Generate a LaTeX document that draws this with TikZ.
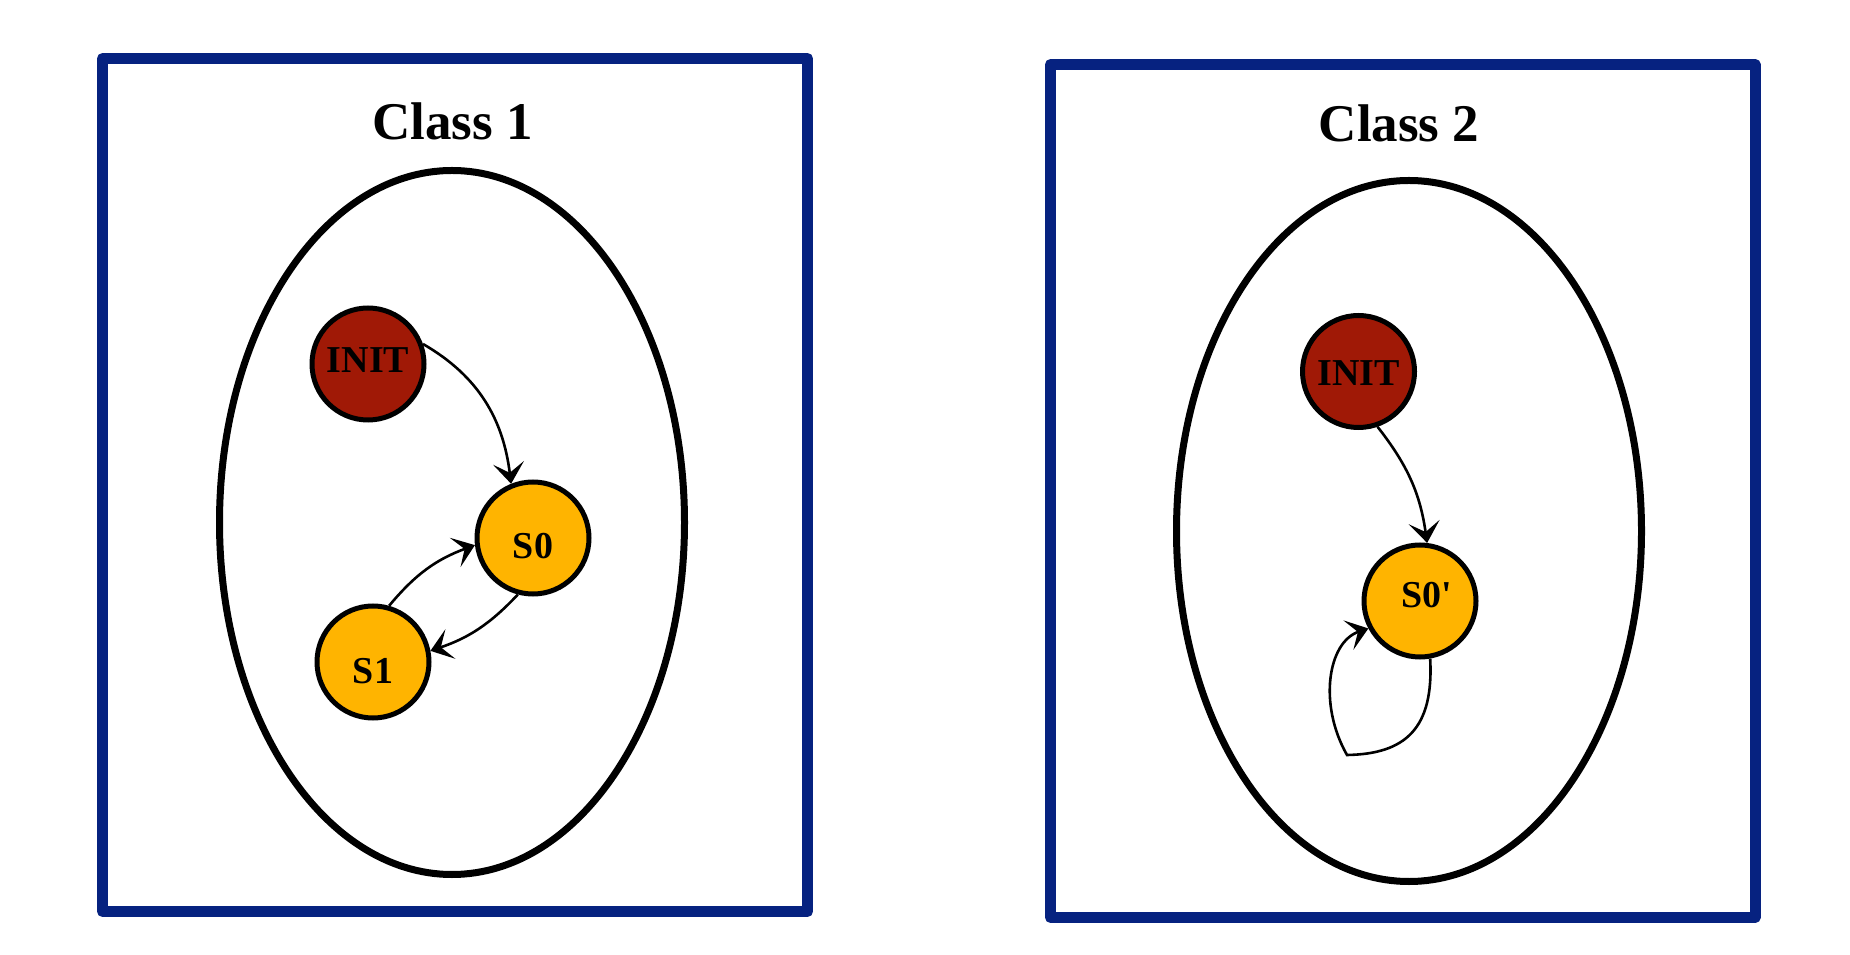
\documentclass[tikz,border=0pt]{standalone}
\usepackage{fontspec}
\setmainfont{Liberation Serif}
\newfontfamily\straightfont{Liberation Serif}[Ligatures=TeXOff]
\usetikzlibrary{arrows.meta,shapes.geometric}
\definecolor{navy}{RGB}{6,34,128}
\definecolor{initred}{RGB}{160,25,6}
\definecolor{stateyel}{RGB}{255,180,0}
\begin{document}
\begin{tikzpicture}[x=1pt,y=1pt,
  classbox/.style={draw=navy,line width=11pt,line join=round},
  classtitle/.style={anchor=base,font=\fontsize{53}{60}\selectfont\bfseries},
  classoval/.style={draw=black,line width=7pt},
  statenode/.style={circle,draw=black,line width=5pt,minimum size=112pt,inner sep=0pt,
     font=\fontsize{38}{40}\selectfont\bfseries,text depth=0pt},
  initnode/.style={statenode,fill=initred},
  plainnode/.style={statenode,fill=stateyel},
  edge/.style={draw=black,line width=2.6pt,-{Stealth[length=21pt,width=31pt,inset=10pt]}}
]
\useasboundingbox (0,0) rectangle (1850,954);
% boxes
\draw[classbox] (102.5,895.5) rectangle (807.5,42.5);
\draw[classbox] (1050.5,889.5) rectangle (1755,36.5);
% titles
\node[classtitle] (t1) at (452.5,814) {Class 1};
\node[classtitle] (t2) at (1399,812) {Class 2};
% ovals
\draw[classoval] (452,431.5) ellipse [x radius=232.5, y radius=352];
\draw[classoval] (1409,423) ellipse [x radius=232.5, y radius=350.5];
% class 1 states
\node[initnode,text height=18pt] (i1) at (368,590) {INIT};
\node[plainnode,text height=42pt] (s0) at (533,416) {S0};
\node[plainnode,text height=44pt] (s1) at (373,292) {S1};
% class 2 states
\node[initnode,text height=28pt] (i2) at (1358.5,582.5) {INIT};
\node[plainnode,text height=14pt] (s0p) at (1420,353) {\hspace*{14pt}S0{\straightfont\bfseries '}};
% class 1 edges
\draw[edge] (i1.20) to[out=-30,in=97] (s0.112);
\draw[edge] (s1.74) to[bend left=15] (s0.187);
\draw[edge] (s0.255) to[bend left=14] (s1.11);
% class 2 edges
\draw[edge] (i2.289) to[bend left=15] (s0p.83);
\coordinate (loopcorner) at (1347,199);
\draw[edge] (s0p.280) .. controls (1434,225) and (1405,200) .. (loopcorner)
   .. controls (1318,250) and (1328,312) .. (s0p.208);
\end{tikzpicture}
\end{document}
